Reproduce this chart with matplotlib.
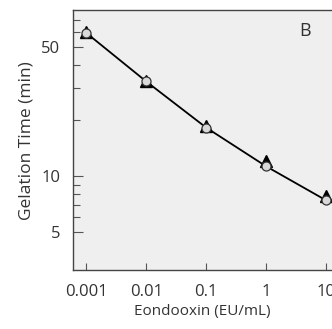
import matplotlib
matplotlib.use("Agg")
import matplotlib.pyplot as plt
from matplotlib.ticker import FixedLocator, NullFormatter, FixedFormatter

# endotoxin concentration (EU/mL) and gelation time (min)
endotoxin = [0.001, 0.01, 0.1, 1, 10]
time_tri = [60.5, 32.8, 18.6, 12.0, 7.8]
time_circ = [59.5, 32.5, 18.3, 11.3, 7.4]

x_ticks = [0.001, 0.01, 0.1, 1, 10]
x_labels = ["0.001", "0.01", "0.1", "1", "10"]
y_ticks = [5, 10, 50]
y_minor = [6, 7, 8, 9, 20, 30, 40, 60, 70]

plt.rcParams['font.family'] = ['Open Sans', 'DejaVu Sans']
txt = '#333333'

fig = plt.figure(figsize=(3.32, 3.29), dpi=100)
ax = fig.add_axes([0.22, 0.179, 0.78, 0.79])
ax.set_facecolor('#efefef')

ax.plot(endotoxin, time_circ, color='black', lw=1.3, zorder=2)
ax.plot(endotoxin, time_tri, linestyle='none', marker='^', ms=8.5,
        mfc='black', mec='black', zorder=3)
ax.plot(endotoxin, time_circ, linestyle='none', marker='o', ms=6.5,
        mfc='#d9d9d9', mec='#333333', mew=0.9, zorder=4)

ax.set_xscale('log')
ax.set_yscale('log')
ax.set_xlim(6.0e-4, 12.6)
ax.set_ylim(3.1, 79)

ax.xaxis.set_major_locator(FixedLocator(x_ticks))
ax.xaxis.set_major_formatter(FixedFormatter(x_labels))
ax.xaxis.set_minor_locator(FixedLocator([]))
ax.yaxis.set_major_locator(FixedLocator(y_ticks))
ax.yaxis.set_major_formatter(FixedFormatter([str(v) for v in y_ticks]))
ax.yaxis.set_minor_locator(FixedLocator(y_minor))
ax.yaxis.set_minor_formatter(NullFormatter())

ax.tick_params(axis='both', which='major', direction='in', length=7,
               width=0.8, color='#555555', labelsize=12, labelcolor=txt)
ax.tick_params(axis='x', which='major', length=5, pad=10)
ax.tick_params(axis='y', which='major', pad=9)
ax.tick_params(axis='y', which='minor', direction='in', length=5,
               width=0.8, color='#555555')

for s in ['left', 'bottom', 'top']:
    ax.spines[s].set_color('#444444')
    ax.spines[s].set_linewidth(1.0)
ax.spines['right'].set_visible(False)

ax.set_xlabel('Eondooxin (EU/mL)', fontsize=11, color=txt, labelpad=3)
ax.set_ylabel('Gelation Time (min)', fontsize=12.5, color=txt, labelpad=5)
ax.text(0.895, 0.92, 'B', transform=ax.transAxes, fontsize=13, color=txt,
        ha='center', va='center')

fig.savefig('out.png', dpi=100)
